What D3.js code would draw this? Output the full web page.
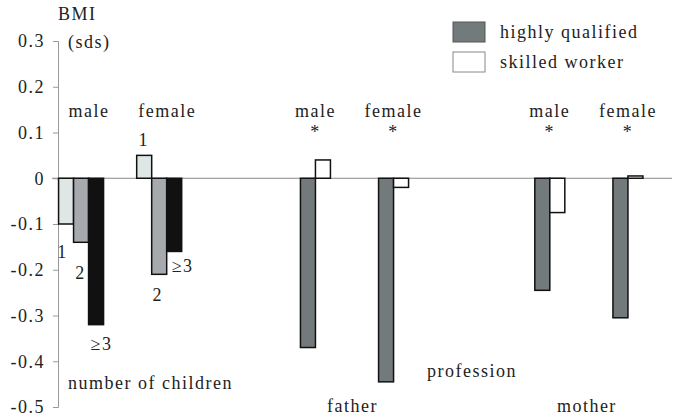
<!DOCTYPE html>
<html>
<head>
<meta charset="utf-8">
<script src="https://cdn.jsdelivr.net/npm/d3@7"></script>
<style>
  body { margin: 0; background: #fff; }
  svg text { font-family: "Liberation Serif", "Times New Roman", Times, "DejaVu Serif", serif; fill: #222; letter-spacing: 1.5px; }
</style>
</head>
<body>
<div id="chart"></div>
<script>
(function () {
  'use strict';

  var serif = '"Liberation Serif", "Times New Roman", Times, "DejaVu Serif", serif';

  // number of children (1, 2, >=3) by sex
  var childSexes = ['male', 'female'];
  var childClasses = ['1', '2', '\u22653'];
  var childValues = [
    [-0.10, -0.14, -0.32],
    [0.05, -0.21, -0.16]
  ];

  // parental profession
  var parents = ['father', 'mother'];
  var profSexes = ['male', 'female'];
  var professions = ['highly qualified', 'skilled worker'];
  var profValues = [
    [[-0.37, 0.04], [-0.445, -0.02]],
    [[-0.245, -0.075], [-0.305, 0.005]]
  ];

  var yTicks = [0.3, 0.2, 0.1, 0, -0.1, -0.2, -0.3, -0.4, -0.5];

  var width = 675, height = 420;
  var barW = 15;

  var svg = d3.select('#chart').append('svg')
    .attr('width', width).attr('height', height);

  var y = d3.scaleLinear().domain([-0.5, 0.3]).range([407, 41]);

  // group slots, with empty slots as gaps between sections
  var slots = ['c-male', 'c-female', 'gap1', 'father-male', 'father-female', 'gap2', 'mother-male', 'mother-female'];
  var x = d3.scaleBand().domain(slots).range([42, 667]);
  var center = function (s) { return x(s) + x.bandwidth() / 2; };

  var childFill = ['#dfe6e6', '#a6aaae', '#111111'];
  var profFill = ['#737a7b', '#ffffff'];

  // zero line
  svg.append('line')
    .attr('x1', 52).attr('x2', 672)
    .attr('y1', y(0)).attr('y2', y(0))
    .attr('stroke', '#888').attr('stroke-width', 1);

  // y axis
  var axis = svg.append('g')
    .attr('transform', 'translate(58,0)')
    .call(d3.axisLeft(y).tickValues(yTicks).tickSizeOuter(0).tickSize(5)
      .tickFormat(function (d) { return d === 0 ? '0' : d.toFixed(1); }));
  axis.attr('font-family', serif).attr('font-size', 18);
  axis.select('.domain').attr('stroke', '#999');
  axis.selectAll('.tick line').attr('stroke', '#999');
  axis.selectAll('.tick text')
    .attr('x', -13)
    .style('font-size', '18px')
    .style('font-family', serif)
    .attr('fill', '#222');

  // children bars
  var inner3 = d3.scaleBand().domain(d3.range(3)).range([-1.5 * barW, 1.5 * barW]);
  var childBars = [];
  childSexes.forEach(function (s, gi) {
    childValues[gi].forEach(function (v, i) {
      childBars.push({ slot: 'c-' + s, i: i, v: v, gi: gi });
    });
  });
  svg.append('g').selectAll('rect').data(childBars).join('rect')
    .attr('x', function (d) { return center(d.slot) + inner3(d.i); })
    .attr('width', inner3.bandwidth())
    .attr('y', function (d) { return y(Math.max(0, d.v)); })
    .attr('height', function (d) { return Math.abs(y(d.v) - y(0)); })
    .attr('fill', function (d) { return childFill[d.i]; })
    .attr('stroke', '#111').attr('stroke-width', 1.5);

  // profession bars
  var inner2 = d3.scaleBand().domain(d3.range(2)).range([-barW, barW]);
  var profBars = [];
  parents.forEach(function (p, pi) {
    profSexes.forEach(function (s, si) {
      profValues[pi][si].forEach(function (v, i) {
        profBars.push({ slot: p + '-' + s, i: i, v: v });
      });
    });
  });
  svg.append('g').selectAll('rect').data(profBars).join('rect')
    .attr('x', function (d) { return center(d.slot) + inner2(d.i); })
    .attr('width', inner2.bandwidth())
    .attr('y', function (d) { return y(Math.max(0, d.v)); })
    .attr('height', function (d) { return Math.abs(y(d.v) - y(0)); })
    .attr('fill', function (d) { return profFill[d.i]; })
    .attr('stroke', '#111').attr('stroke-width', 1.5);

  var label = function (txt, cx, cy, anchor) {
    return svg.append('text')
      .attr('x', cx).attr('y', cy)
      .attr('text-anchor', anchor || 'middle')
      .attr('dominant-baseline', 'middle')
      .style('font-size', '18px')
      .style('font-family', serif)
      .text(txt);
  };

  // section / sex labels
  childSexes.forEach(function (s) { label(s, center('c-' + s) + 8, 113); });
  parents.forEach(function (p) {
    profSexes.forEach(function (s) {
      label(s, center(p + '-' + s), 113);
      label('*', center(p + '-' + s), 134);
    });
  });

  // class labels under / over children bars
  var male = childValues[0], female = childValues[1];
  label(childClasses[0], center('c-male') + inner3(0) + 4, y(male[0]) + 30);
  label(childClasses[1], center('c-male') + inner3(1) + 7, y(male[1]) + 33);
  label(childClasses[2], center('c-male') + inner3(2) + 13, y(male[2]) + 21);
  label(childClasses[0], center('c-female') + inner3(0) + 7, y(female[0]) - 14);
  label(childClasses[1], center('c-female') + inner3(1) + 6, y(female[1]) + 23);
  label(childClasses[2], center('c-female') + inner3(2) + 16, y(female[2]) + 16);

  label('number of children', 68, 385, 'start');
  label('profession', 472, 373);
  parents.forEach(function (p) {
    label(p, (center(p + '-male') + center(p + '-female')) / 2 - 2, 408);
  });

  // y title
  label('BMI', 58, 16, 'start');
  label('(sds)', 68, 44, 'start');

  // legend
  var legend = svg.append('g').selectAll('g').data(professions).join('g')
    .attr('transform', function (d, i) { return 'translate(453,' + (22 + i * 30) + ')'; });
  legend.append('rect')
    .attr('width', 32).attr('height', 20)
    .attr('fill', function (d, i) { return profFill[i]; })
    .attr('stroke', function (d, i) { return i ? '#888' : '#555'; })
    .attr('stroke-width', 1);
  legend.append('text')
    .attr('x', 47).attr('y', 12)
    .attr('dominant-baseline', 'middle')
    .style('font-size', '18px')
    .style('font-family', serif)
    .text(function (d) { return d; });
})();
</script>
</body>
</html>
